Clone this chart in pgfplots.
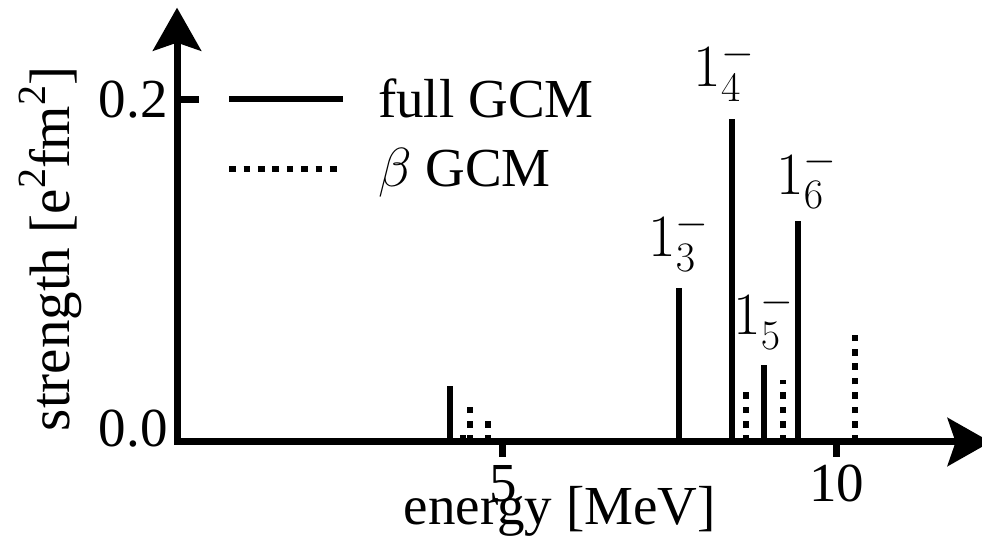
\RequirePackage{fix-cm}
\documentclass[border=0pt]{standalone}
\usepackage[no-math]{fontspec}
\setmainfont{Liberation Serif}
\usepackage{pgfplots}
\pgfplotsset{compat=1.18}
\usetikzlibrary{arrows.meta}
\newcommand\lbl{\fontsize{27.5}{32}\selectfont}
\newcommand\ylbl{\fontsize{28.5}{33}\selectfont}
\newcommand\slbl{\fontsize{30}{36}\selectfont}
\newcommand\sq{\raisebox{0.42em}{\fontsize{20}{22}\selectfont 2}}
\tikzset{
  fullline/.style={line width=3pt, black},
  betaline/.style={line width=3pt, black, dash pattern=on 3.3pt off 3.9pt},
}
\begin{document}
\begin{tikzpicture}
\begin{axis}[
  x=33.4pt, y=855pt,
  xmin=0.12, xmax=12.3, ymin=0, ymax=0.254,
  enlargelimits=false,
  clip=false,
  axis lines=left,
  axis line style={line width=3.5pt, line cap=rect, -{Stealth[length=21.5pt, width=24pt, inset=4pt]}},
  xtick={5,10}, xticklabels={5,10},
  ytick={0,0.2}, yticklabels={{\raisebox{14pt}{0.0}},0.2},
  xtick align=outside, ytick align=inside,
  major tick length=11pt,
  xtick style={line width=3.5pt, black, /pgfplots/major tick length=7.5pt},
  ytick style={line width=3.5pt, black},
  tick label style={font=\lbl, inner sep=0pt},
  yticklabel style={anchor=east, xshift=-4.5pt},
  xticklabel style={anchor=north, yshift=-0.5pt},
  xlabel={energy [MeV]},
  xlabel style={at={(axis cs:5.85,0)}, anchor=base, yshift=-41.5pt, font=\lbl, inner sep=0pt},
  ylabel={strength [e\sq fm\sq]},
  ylabel style={at={(axis cs:-1.78,0.1129)}, anchor=center, rotate=0, font=\ylbl, inner sep=0pt},
  legend style={draw=none, fill=none, at={(axis cs:0.85,0.2151)}, anchor=north west,
    font=\lbl, row sep=10pt, inner sep=0pt},
  legend cell align=left,
]
\addplot[ycomb, fullline, mark=none,
  legend image code/.code={\draw[fullline] (0pt,0pt) -- (57pt,0pt); \path (71pt,0pt);}]
  coordinates {(4.21,0.0327) (7.63,0.090) (8.43,0.189) (8.91,0.045) (9.42,0.129)};
\addlegendentry{full GCM}
\addplot[ycomb, betaline, mark=none,
  legend image code/.code={\draw[betaline] (0pt,0pt) -- (57pt,0pt); \path (71pt,0pt);}]
  coordinates {(4.40,0.007) (4.51,0.021) (4.78,0.016) (8.64,0.0327) (9.19,0.036) (10.27,0.065)};
\addlegendentry{$\beta$ GCM}
\node[anchor=base west, inner sep=0pt, font=\slbl] at (axis cs:7.171,0.1082) {$1^-_3$};
\node[anchor=base west, inner sep=0pt, font=\slbl] at (axis cs:7.847,0.2076) {$1^-_4$};
\node[anchor=base west, inner sep=0pt, font=\slbl] at (axis cs:8.443,0.0626) {$1^-_5$};
\node[anchor=base west, inner sep=0pt, font=\slbl] at (axis cs:9.087,0.1450) {$1^-_6$};
\coordinate (O) at (axis cs:0,0);
\end{axis}
\pgfresetboundingbox
\path[use as bounding box] ([shift={(-84.5pt,-51pt)}]O) rectangle ([shift={(406.5pt,221pt)}]O);
\end{tikzpicture}
\end{document}
